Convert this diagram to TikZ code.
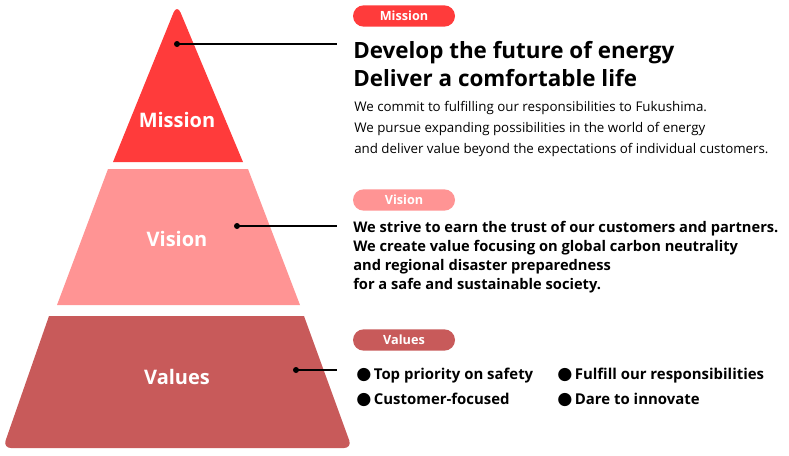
\documentclass[tikz,border=0pt]{standalone}
\usepackage{fontspec}
\setmainfont{Open Sans}
\newfontfamily\dotfont{DejaVu Sans}
\usetikzlibrary{shapes.misc}
\definecolor{missionred}{HTML}{FF3B3B}
\definecolor{visionpink}{HTML}{FF9494}
\definecolor{valuesred}{HTML}{C85A5A}
\def\bigdot{{\dotfont\fontsize{13}{13}\selectfont ●}}
\tikzset{
  tag/.style={rounded rectangle, minimum width=76.5pt, minimum height=16pt,
    inner sep=0pt, text=white, font=\bfseries\fontsize{9.5}{11}\selectfont},
  level/.style={text=white, font=\bfseries\fontsize{15}{18}\selectfont},
  lead/.style={anchor=base west, inner sep=0pt, align=left},
  link/.style={line width=1.5pt},
  pin/.style={radius=3},
  item/.style={anchor=base west, inner sep=0pt, font=\bfseries\fontsize{11.2}{13}\selectfont}
}
\begin{document}
\begin{tikzpicture}[x=0.75pt,y=-0.75pt]
  \useasboundingbox (0,0) rectangle (789,455);
  % pyramid
  \fill [missionred] (113,162) [rounded corners=7pt]-- (177,4) [sharp corners]-- (243,162) -- cycle;
  \fill [visionpink] (108,169) -- (248,169) -- (300,305) -- (57,305) -- cycle;
  \fill [valuesred] (49,316) -- (304,316) [rounded corners=6pt]-- (352,448) -- (3,448) [sharp corners]-- cycle;
  \node [level] (mission) at (177,120) {Mission};
  \node [level] (vision) at (177,239) {Vision};
  \node [level] (values) at (177,377) {Values};
  % dots and links
  \fill (177,44) coordinate (mdot) circle [pin];
  \fill (237,226) coordinate (vdot) circle [pin];
  \fill (296,370) coordinate (sdot) circle [pin];
  \coordinate (mend) at (337,44);
  \coordinate (vend) at (337,226);
  \coordinate (send) at (337,370);
  \draw [link] (mdot) -- (mend);
  \draw [link] (vdot) -- (vend);
  \draw [link] (sdot) -- (send);
  % mission (nodes sit on the baseline of their last line)
  \node [tag, fill=missionred] (missiontag) at (404,16) {Mission};
  \node [lead, font=\bfseries\fontsize{16.8}{21}\selectfont] (missionhead) at (353,86)
    {Develop the future of energy\\Deliver a comfortable life};
  \node [lead, font=\fontsize{10}{15.75}\selectfont] (missiontext) at (354,153)
    {We commit to fulfilling our responsibilities to Fukushima.\\
     We pursue expanding possibilities in the world of energy\\
     and deliver value beyond the expectations of individual customers.};
  % vision
  \node [tag, fill=visionpink] (visiontag) at (404,200) {Vision};
  \node [lead, font=\bfseries\fontsize{11}{14.25}\selectfont] (visiontext) at (353,289)
    {We strive to earn the trust of our customers and partners.\\
     We create value focusing on global carbon neutrality\\
     and regional disaster preparedness\\
     for a safe and sustainable society.};
  % values
  \node [tag, fill=valuesred] (valuestag) at (404,340) {Values};
  \node [item] (safety) at (356,379) {\bigdot\,Top priority on safety};
  \node [item] (customer) at (356,404) {\bigdot\,Customer-focused};
  \node [item] (responsible) at (557,379) {\bigdot\,Fulfill our responsibilities};
  \node [item] (innovate) at (557,404) {\bigdot\,Dare to innovate};
\end{tikzpicture}
\end{document}
